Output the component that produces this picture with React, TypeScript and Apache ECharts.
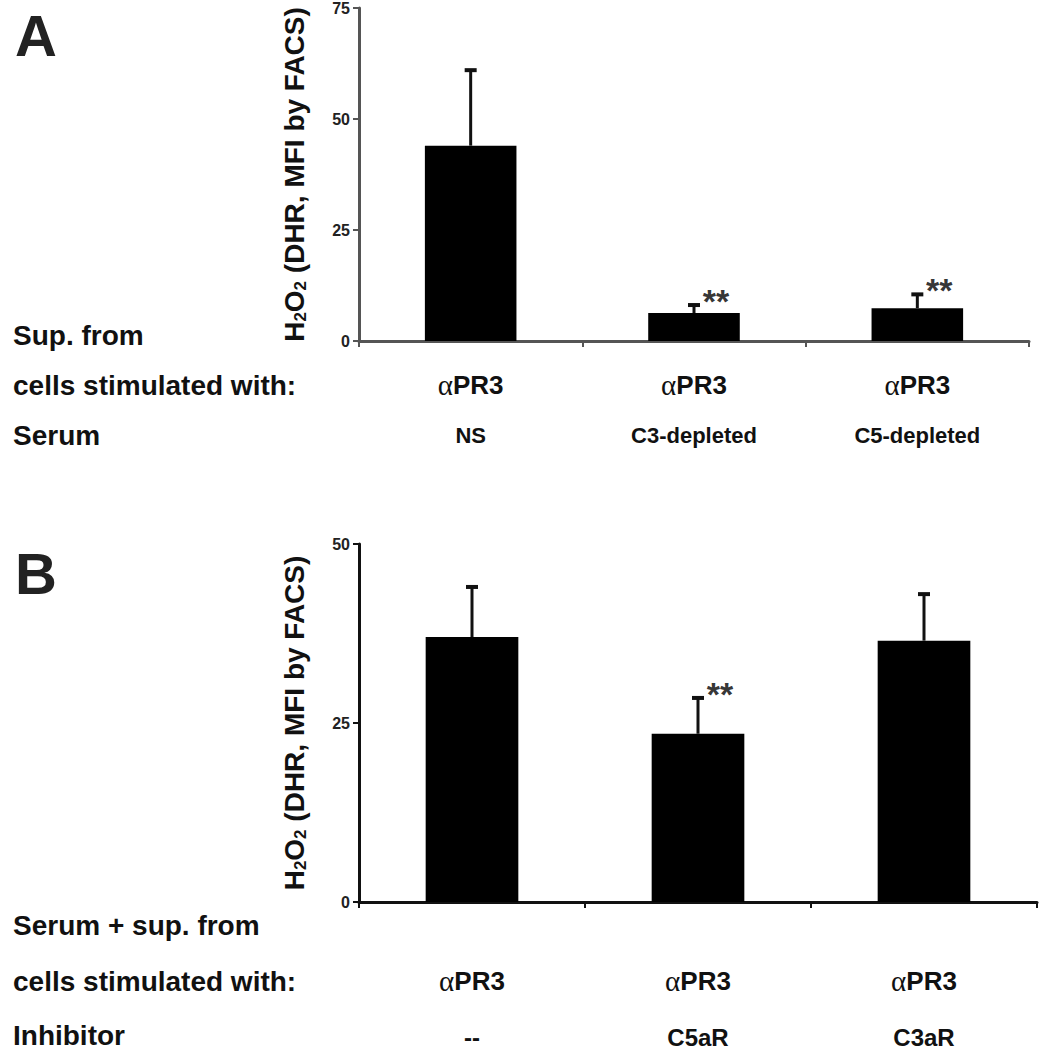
import React, { useEffect, useRef } from "react";
import * as echarts from "echarts";

// ---- Panel A data ----
const stimulusA = ["αPR3", "αPR3", "αPR3"];
const serumA = ["NS", "C3-depleted", "C5-depleted"];
const meanA = [44, 6.3, 7.4];
const errTopA = [61, 8.1, 10.5];
const sigA = ["", "**", "**"];
const rowLabelsA = ["Sup. from", "cells stimulated with:", "Serum"];

// ---- Panel B data ----
const stimulusB = ["αPR3", "αPR3", "αPR3"];
const inhibitorB = ["--", "C5aR", "C3aR"];
const meanB = [37, 23.5, 36.5];
const errTopB = [44, 28.5, 43];
const sigB = ["", "**", ""];
const rowLabelsB = ["Serum + sup. from", "cells stimulated with:", "Inhibitor"];

const yTitle = "{n|H}{s|2}{n|O}{s|2}{n| (DHR, MFI by FACS)}";

const SANS = '"Liberation Sans", Arial, sans-serif';
const SERIF = '"Liberation Serif", "Times New Roman", serif';

function xLabelRich(lh: number, secondSize: number) {
  return {
    g: { fontFamily: SERIF, fontSize: 29, fontWeight: "normal", color: "#111", lineHeight: lh },
    b: { fontFamily: SANS, fontSize: 26, fontWeight: "bold", color: "#111", lineHeight: lh },
    c: { fontFamily: SANS, fontSize: secondSize, fontWeight: "bold", color: "#111", lineHeight: lh },
  };
}

const yTitleRich = {
  n: { fontFamily: SANS, fontSize: 28, fontWeight: "bold", color: "#111" },
  s: { fontFamily: SANS, fontSize: 17, fontWeight: "bold", color: "#111", padding: [12, 0, 0, 0] },
};

function errSeries(idx: number, means: number[], tops: number[]) {
  return {
    type: "custom",
    xAxisIndex: idx,
    yAxisIndex: idx,
    z: 3,
    data: means.map((m, i) => [i, m, tops[i]]),
    encode: { x: 0, y: [1, 2] },
    renderItem: (params: any, api: any) => {
      const x = api.value(0);
      const lo = api.coord([x, api.value(1)]);
      const hi = api.coord([x, api.value(2)]);
      return {
        type: "group",
        children: [
          { type: "line", shape: { x1: lo[0], y1: lo[1], x2: hi[0], y2: hi[1] }, style: { stroke: "#111", lineWidth: 3 } },
          { type: "line", shape: { x1: hi[0] - 6, y1: hi[1], x2: hi[0] + 6, y2: hi[1] }, style: { stroke: "#111", lineWidth: 4 } },
        ],
      };
    },
  };
}

function sigSeries(idx: number, tops: number[], sig: string[]) {
  return {
    type: "scatter",
    xAxisIndex: idx,
    yAxisIndex: idx,
    symbolSize: 0,
    z: 4,
    data: tops.map((t, i) => ({ value: [i, t], sig: sig[i] })).filter((d) => d.sig),
    label: {
      show: true,
      position: "inside",
      offset: [22, -4],
      formatter: (p: any) => p.data.sig,
      fontFamily: SANS,
      fontWeight: "bold",
      fontSize: 34,
      color: "#000",
    },
  };
}

export default function App() {
  const ref = useRef<HTMLDivElement>(null);
  useEffect(() => {
    if (!ref.current) return;
    const chart = echarts.init(ref.current, null, { renderer: "svg" });
    const axisColorA = "#555";
    const axisColorB = "#111";
    const makeRowText = (labels: string[], ys: number[]) =>
      labels.map((t, i) => ({
        type: "text",
        x: 13,
        y: ys[i],
        style: {
          text: t,
          fontFamily: SANS,
          fontSize: 28,
          fontWeight: "bold",
          fill: "#111",
          verticalAlign: "middle",
          lineHeight: 26,
        },
      }));
    chart.setOption({
      animation: false,
      backgroundColor: "#fff",
      grid: [
        { left: 359, top: 6, width: 670, height: 335 },
        { left: 359, top: 544, width: 678, height: 358 },
      ],
      xAxis: [
        {
          type: "category",
          gridIndex: 0,
          data: stimulusA,
          axisLine: { lineStyle: { color: axisColorA, width: 3 } },
          axisTick: { show: true, length: 6, lineStyle: { color: axisColorA, width: 2 } },
          axisLabel: {
            margin: 19,
            interval: 0,
            formatter: (v: string, i: number) => `{g|${v.slice(0, 1)}}{b|${v.slice(1)}}\n{c|${serumA[i]}}`,
            rich: xLabelRich(50, 22),
          },
        },
        {
          type: "category",
          gridIndex: 1,
          data: stimulusB,
          axisLine: { lineStyle: { color: axisColorB, width: 3 } },
          axisTick: { show: true, length: 6, lineStyle: { color: axisColorB, width: 2 } },
          axisLabel: {
            margin: 51,
            interval: 0,
            formatter: (v: string, i: number) => `{g|${v.slice(0, 1)}}{b|${v.slice(1)}}\n{c|${inhibitorB[i]}}`,
            rich: xLabelRich(56, 24),
          },
        },
      ],
      yAxis: [
        {
          type: "value",
          gridIndex: 0,
          min: 0,
          max: 75,
          interval: 25,
          splitLine: { show: false },
          axisLine: { show: true, lineStyle: { color: axisColorA, width: 3 } },
          axisTick: { show: true, length: 6, lineStyle: { color: axisColorA, width: 2 } },
          axisLabel: { margin: 9, fontFamily: SANS, fontSize: 16, fontWeight: "bold", color: "#222" },
          name: yTitle,
          nameLocation: "middle",
          nameRotate: 90,
          nameGap: 50,
          nameTextStyle: { rich: yTitleRich },
        },
        {
          type: "value",
          gridIndex: 1,
          min: 0,
          max: 50,
          interval: 25,
          splitLine: { show: false },
          axisLine: { show: true, lineStyle: { color: axisColorB, width: 3 } },
          axisTick: { show: true, length: 6, lineStyle: { color: axisColorB, width: 2 } },
          axisLabel: { margin: 9, fontFamily: SANS, fontSize: 16, fontWeight: "bold", color: "#222" },
          name: yTitle,
          nameLocation: "middle",
          nameRotate: 90,
          nameGap: 50,
          nameTextStyle: { rich: yTitleRich },
        },
      ],
      series: [
        {
          type: "bar",
          xAxisIndex: 0,
          yAxisIndex: 0,
          data: meanA,
          barWidth: "41%",
          itemStyle: { color: "#000" },
          z: 2,
        },
        errSeries(0, meanA, errTopA),
        sigSeries(0, errTopA, sigA),
        {
          type: "bar",
          xAxisIndex: 1,
          yAxisIndex: 1,
          data: meanB,
          barWidth: "41%",
          itemStyle: { color: "#000" },
          z: 2,
        },
        errSeries(1, meanB, errTopB),
        sigSeries(1, errTopB, sigB),
      ],
      graphic: [
        { type: "text", x: 15, y: 6, style: { text: "A", fontFamily: SANS, fontSize: 58, fontWeight: "bold", fill: "#222", verticalAlign: "top", lineHeight: 58 } },
        { type: "text", x: 15, y: 544, style: { text: "B", fontFamily: SANS, fontSize: 58, fontWeight: "bold", fill: "#222", verticalAlign: "top", lineHeight: 58 } },
        ...makeRowText(rowLabelsA, [335, 385, 435]),
        ...makeRowText(rowLabelsB, [925, 981, 1035]),
      ],
    });
    return () => chart.dispose();
  }, []);
  return <div ref={ref} style={{ position: "fixed", left: 0, top: 0, width: 1045, height: 1050 }} />;
}
